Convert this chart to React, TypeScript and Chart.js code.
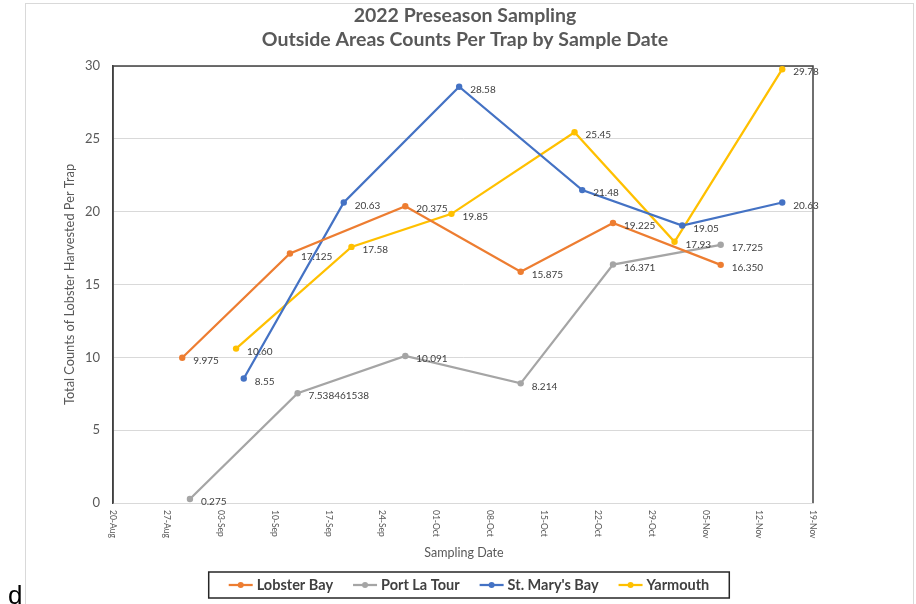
import React, { useEffect, useRef } from 'react';
import { Chart, registerables } from 'chart.js';

Chart.register(...registerables);

const chartTitle = ['2022 Preseason Sampling', 'Outside Areas Counts Per Trap by Sample Date'];
const xAxisTitle = 'Sampling Date';
const yAxisTitle = 'Total Counts of Lobster Harvested Per Trap';
const xTickLabels = ['20-Aug', '27-Aug', '03-Sep', '10-Sep', '17-Sep', '24-Sep', '01-Oct', '08-Oct', '15-Oct', '22-Oct', '29-Oct', '05-Nov', '12-Nov', '19-Nov'];
const yTickStep = 5;
const yMax = 30;

// sample dates as days after 20-Aug
const lobsterBayDays = [9, 23, 38, 53, 65, 79];
const lobsterBayValues = [9.975, 17.125, 20.375, 15.875, 19.225, 16.35];
const lobsterBayLabels = ['9.975', '17.125', '20.375', '15.875', '19.225', '16.350'];

const portLaTourDays = [10, 24, 38, 53, 65, 79];
const portLaTourValues = [0.275, 7.538461538, 10.091, 8.214, 16.371, 17.725];
const portLaTourLabels = ['0.275', '7.538461538', '10.091', '8.214', '16.371', '17.725'];

const stMarysBayDays = [17, 30, 45, 61, 74, 87];
const stMarysBayValues = [8.55, 20.63, 28.58, 21.48, 19.05, 20.63];
const stMarysBayLabels = ['8.55', '20.63', '28.58', '21.48', '19.05', '20.63'];

const yarmouthDays = [16, 31, 44, 60, 73, 87];
const yarmouthValues = [10.6, 17.58, 19.85, 25.45, 17.93, 29.78];
const yarmouthLabels = ['10.60', '17.58', '19.85', '25.45', '17.93', '29.78'];

const seriesNames = ['Lobster Bay', 'Port La Tour', "St. Mary's Bay", 'Yarmouth'];
const seriesColors = ['#ED7D31', '#A5A5A5', '#4472C4', '#FFC000'];

const FONT = 'Lato, "Open Sans", sans-serif';

const toPoints = (days: number[], vals: number[]) => days.map((d, i) => ({ x: d, y: vals[i] }));

const seriesDays = [lobsterBayDays, portLaTourDays, stMarysBayDays, yarmouthDays];
const seriesValues = [lobsterBayValues, portLaTourValues, stMarysBayValues, yarmouthValues];
const seriesLabels = [lobsterBayLabels, portLaTourLabels, stMarysBayLabels, yarmouthLabels];

const decorPlugin = {
  id: 'decor',
  beforeDraw(chart: any) {
    const ctx = chart.ctx;
    ctx.save();
    ctx.fillStyle = '#ffffff';
    ctx.fillRect(0, 0, chart.width, chart.height);
    ctx.strokeStyle = '#d9d9d9';
    ctx.lineWidth = 1;
    ctx.strokeRect(25.5, 3.5, 888, 620);
    ctx.restore();
  },
  beforeDatasetsDraw(chart: any) {
    const { ctx, chartArea } = chart;
    ctx.save();
    ctx.strokeStyle = '#404040';
    ctx.lineWidth = 1.5;
    ctx.beginPath();
    ctx.moveTo(chartArea.left, chartArea.bottom);
    ctx.lineTo(chartArea.left, chartArea.top);
    ctx.lineTo(chartArea.right, chartArea.top);
    ctx.lineTo(chartArea.right, chartArea.bottom);
    ctx.stroke();
    ctx.restore();
  },
  afterDatasetsDraw(chart: any) {
    const ctx = chart.ctx;
    ctx.save();
    ctx.font = `10px ${FONT}`;
    ctx.fillStyle = '#404040';
    ctx.textAlign = 'left';
    ctx.textBaseline = 'middle';
    chart.data.datasets.forEach((ds: any, di: number) => {
      const meta = chart.getDatasetMeta(di);
      meta.data.forEach((pt: any, i: number) => {
        ctx.fillText(seriesLabels[di][i], pt.x + 11, pt.y + 3);
      });
    });
    ctx.restore();
  },
  afterDraw(chart: any) {
    const { ctx, chartArea } = chart;
    const xs = chart.scales.x;
    const cx = (chartArea.left + chartArea.right) / 2;
    ctx.save();
    // title
    ctx.fillStyle = '#595959';
    ctx.font = `bold 19.5px ${FONT}`;
    ctx.textAlign = 'center';
    ctx.textBaseline = 'middle';
    ctx.fillText(chartTitle[0], cx + 2, 16);
    ctx.fillText(chartTitle[1], cx + 2, 40);
    // x tick labels (rotated clockwise)
    ctx.font = `8.5px ${FONT}`;
    ctx.textAlign = 'left';
    xTickLabels.forEach((lab, i) => {
      const px = xs.getPixelForValue(i * 7);
      ctx.save();
      ctx.translate(px, chartArea.bottom + 7);
      ctx.rotate(Math.PI / 2);
      ctx.fillText(lab, 0, 0);
      ctx.restore();
    });
    // axis titles
    ctx.font = `12.5px ${FONT}`;
    ctx.textAlign = 'center';
    ctx.fillText(xAxisTitle, cx + 1, 553);
    ctx.save();
    ctx.font = `12.8px ${FONT}`;
    ctx.translate(70, (chartArea.top + chartArea.bottom) / 2);
    ctx.rotate(-Math.PI / 2);
    ctx.fillText(yAxisTitle, 0, 0);
    ctx.restore();
    // legend
    ctx.font = `bold 14.5px ${FONT}`;
    const lineW = 24;
    const gap = 4;
    const spacing = 20;
    const widths = seriesNames.map((n) => ctx.measureText(n).width);
    const total = widths.reduce((a, w) => a + lineW + gap + w, 0) + spacing * (seriesNames.length - 1);
    const legendCenter = 469;
    let x = legendCenter - total / 2;
    const ly = 585;
    ctx.strokeStyle = '#262626';
    ctx.lineWidth = 1.5;
    ctx.strokeRect(x - 20, 572, total + 40, 26);
    ctx.textAlign = 'left';
    ctx.fillStyle = '#404040';
    seriesNames.forEach((n, i) => {
      ctx.strokeStyle = seriesColors[i];
      ctx.lineWidth = 2.25;
      ctx.beginPath();
      ctx.moveTo(x, ly);
      ctx.lineTo(x + lineW, ly);
      ctx.stroke();
      ctx.fillStyle = seriesColors[i];
      ctx.beginPath();
      ctx.arc(x + lineW / 2, ly, 3, 0, Math.PI * 2);
      ctx.fill();
      ctx.fillStyle = '#404040';
      ctx.fillText(n, x + lineW + gap, ly + 0.5);
      x += lineW + gap + widths[i] + spacing;
    });
    ctx.restore();
  },
};

export default function App() {
  const canvasRef = useRef<HTMLCanvasElement | null>(null);

  useEffect(() => {
    if (!canvasRef.current) return;
    const chart = new Chart(canvasRef.current, {
      type: 'line',
      data: {
        datasets: seriesNames.map((name, i) => ({
          label: name,
          data: toPoints(seriesDays[i], seriesValues[i]),
          borderColor: seriesColors[i],
          backgroundColor: seriesColors[i],
          borderWidth: 2.25,
          pointRadius: 3.2,
          pointHoverRadius: 3.2,
          pointBorderWidth: 0,
          tension: 0,
          fill: false,
        })),
      },
      options: {
        animation: false,
        responsive: false,
        devicePixelRatio: 1,
        layout: { padding: { left: 0, top: 66, right: 103, bottom: 101 } },
        plugins: {
          legend: { display: false },
          title: { display: false },
          tooltip: { enabled: false },
        },
        scales: {
          x: {
            type: 'linear',
            min: 0,
            max: (xTickLabels.length - 1) * 7,
            ticks: { display: false, stepSize: 7 },
            grid: { display: false },
            border: { display: true, color: '#d9d9d9', width: 1 },
            afterFit: (s: any) => {
              s.height = 0;
            },
          },
          y: {
            min: 0,
            max: yMax,
            ticks: {
              stepSize: yTickStep,
              color: '#595959',
              font: { family: FONT, size: 13 },
              padding: 13,
            },
            grid: { color: '#d9d9d9', drawTicks: false, lineWidth: 1 },
            border: { display: true, color: '#404040', width: 1.5 },
            afterFit: (s: any) => {
              s.width = 113;
            },
          },
        },
      },
      plugins: [decorPlugin],
    });
    return () => chart.destroy();
  }, []);

  return (
    <div style={{ position: 'fixed', left: 0, top: 0, width: 916, height: 604, background: '#fff' }}>
      <canvas ref={canvasRef} width={916} height={604} style={{ width: 916, height: 604, display: 'block' }} />
      <div
        style={{
          position: 'absolute',
          left: 8,
          top: 582,
          font: '26px "Liberation Sans", Arial, sans-serif',
          lineHeight: '26px',
          color: '#000',
        }}
      >
        d
      </div>
    </div>
  );
}
